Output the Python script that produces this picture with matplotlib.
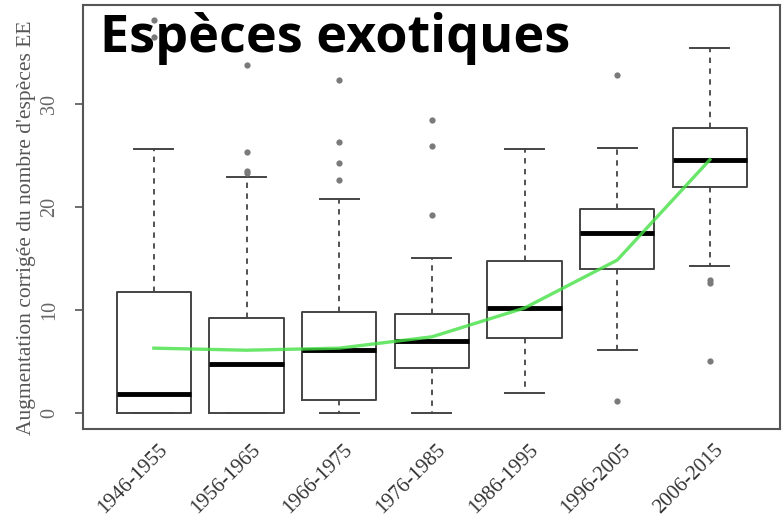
import numpy as np
import matplotlib.pyplot as plt
from matplotlib.transforms import ScaledTranslation

# décennies et statistiques des boîtes (augmentation corrigée, espèces EE)
periodes = ["1946-1955", "1956-1965", "1966-1975", "1976-1985",
            "1986-1995", "1996-2005", "2006-2015"]
medianes = [1.8, 4.75, 6.1, 7.0, 10.2, 17.45, 24.6]
q1 = [0.0, 0.0, 1.3, 4.4, 7.25, 13.95, 21.9]
q3 = [11.8, 9.2, 9.8, 9.6, 14.75, 19.8, 27.7]
moustache_bas = [0.0, 0.0, 0.0, 0.0, 1.9, 6.1, 14.3]
moustache_haut = [25.6, 22.9, 20.8, 15.1, 25.6, 25.7, 35.4]
extremes = [
    [38.2, 36.5],
    [25.3, 23.5, 23.3, 33.8],
    [22.6, 24.3, 26.3, 32.3],
    [28.5, 25.95, 19.2],
    [],
    [32.8, 1.15],
    [12.9, 12.6, 5.1],
]
# courbe de tendance (lissage)
tendance = [6.3, 6.1, 6.3, 7.4, 10.2, 14.85, 24.6]

stats = []
for i, nom in enumerate(periodes):
    stats.append(dict(label=nom, med=medianes[i], q1=q1[i], q3=q3[i],
                      whislo=moustache_bas[i], whishi=moustache_haut[i],
                      fliers=extremes[i]))

fig = plt.figure(figsize=(7.82, 5.2), dpi=100)
ax = fig.add_axes([0.106, 0.175, 0.891, 0.815])

pos = np.arange(1, len(periodes) + 1)
ax.bxp(stats, positions=pos, widths=0.8, capwidths=0.42, patch_artist=False,
       boxprops=dict(color="#444444", linewidth=1.4),
       medianprops=dict(color="black", linewidth=3.5, solid_capstyle="butt"),
       whiskerprops=dict(color="#444444", linewidth=1.3, linestyle=(0, (3, 3))),
       capprops=dict(color="#444444", linewidth=1.4),
       flierprops=dict(marker="o", markersize=4.5, markerfacecolor="#7a7a7a",
                       markeredgecolor="none"))

ax.plot(pos, tendance, color="#45e045", linewidth=2.4, alpha=0.8, zorder=5)

ax.set_xlim(0.234, 7.753)
ax.set_ylim(-1.55, 39.6)

ax.set_yticks([0, 10, 20, 30])
ax.set_yticklabels(["0", "10", "20", "30"], rotation=90, va="center",
                   family="Liberation Serif", fontsize=14.5, color="#666666")
ax.tick_params(axis="y", length=6, width=1.2, color="#555555", pad=11)

ax.set_xticks(pos)
ax.set_xticklabels(periodes, rotation=45, ha="right", rotation_mode="anchor",
                   family="Liberation Serif", fontsize=15, color="#333333")
ax.tick_params(axis="x", length=0, pad=8)
decalage = ScaledTranslation(4 / 100, 0, fig.dpi_scale_trans)
for lab in ax.get_xticklabels():
    lab.set_transform(lab.get_transform() + decalage)

ax.set_ylabel("Augmentation corrigée du nombre d'espèces EE",
              family="Liberation Serif", fontsize=15.5, color="#555555")
ax.yaxis.set_label_coords(-0.067, 0.474)

for s in ax.spines.values():
    s.set_color("#555555")
    s.set_linewidth(1.5)

ax.text(0.024, 0.89, "Espèces exotiques", transform=ax.transAxes,
        family="Open Sans", fontweight="bold", fontsize=37.5, color="black",
        va="baseline", ha="left", zorder=10)

fig.savefig("out.png", dpi=100)
